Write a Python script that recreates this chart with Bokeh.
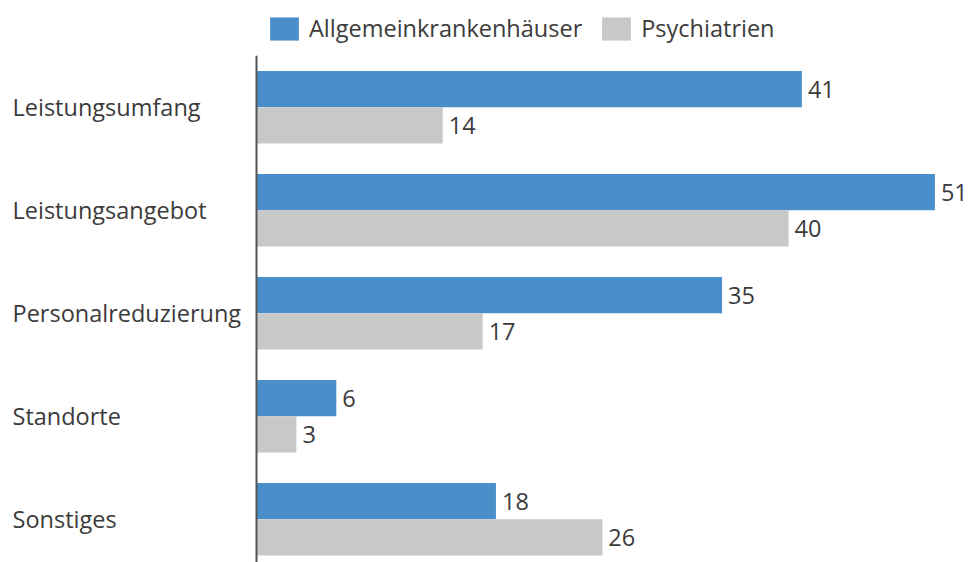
from bokeh.plotting import figure
from bokeh.models import ColumnDataSource, Range1d, Legend, LegendItem
from bokeh.core.properties import value
from bokeh.embed import file_html
from bokeh.resources import INLINE

categories = ["Leistungsumfang", "Leistungsangebot", "Personalreduzierung", "Standorte", "Sonstiges"]
allgemein = [41, 51, 35, 6, 18]
psychiatrien = [14, 40, 17, 3, 26]
series_names = ["Allgemeinkrankenhäuser", "Psychiatrien"]

BLUE = "#4A8FCA"
GREY = "#C7C8CA"
TEXT = "#3B3B3B"
FONT = "Open Sans"
FS = "23.5px"

pos = list(range(len(categories)))
bh = 0.3525
y_top, y_bot = -1.036, 4.42
x_end = 53.6
x_start = -256 / (713 / x_end)
src = ColumnDataSource(dict(
    cat=categories,
    pos=pos,
    pos_a=[p_ - bh / 2 for p_ in pos],
    pos_b=[p_ + bh / 2 for p_ in pos],
    a=allgemein,
    b=psychiatrien,
    a_lbl=[str(v) for v in allgemein],
    b_lbl=[str(v) for v in psychiatrien],
    lab_x=[x_start * 244 / 256] * len(categories),
))

p = figure(width=969, height=562, output_backend="svg", toolbar_location=None,
           x_range=Range1d(x_start, x_end), y_range=Range1d(y_bot, y_top),
           min_border=0, min_border_left=0, min_border_right=0,
           min_border_top=0, min_border_bottom=0)
p.axis.visible = False
p.grid.visible = False
p.outline_line_color = None
p.background_fill_color = "white"
p.border_fill_color = "white"

ra = p.hbar(y="pos_a", right="a", left=0, height=bh, source=src, fill_color=BLUE, line_color=None)
rb = p.hbar(y="pos_b", right="b", left=0, height=bh, source=src, fill_color=GREY, line_color=None)

# axis line at zero
p.segment(x0=0, x1=0, y0=-0.5, y1=y_bot, line_color="#555555", line_width=2)

p.text(x="a", y="pos_a", text="a_lbl", source=src, x_offset=6,
       text_baseline="middle", text_align="left", text_color=TEXT,
       text_font=value(FONT), text_font_size=FS)
p.text(x="b", y="pos_b", text="b_lbl", source=src, x_offset=6,
       text_baseline="middle", text_align="left", text_color=TEXT,
       text_font=value(FONT), text_font_size=FS)
p.text(x="lab_x", y="pos", text="cat", source=src,
       text_baseline="middle", text_align="left", text_color=TEXT,
       text_font=value(FONT), text_font_size=FS)

legend = Legend(items=[LegendItem(label=series_names[0], renderers=[ra]),
                       LegendItem(label=series_names[1], renderers=[rb])],
                orientation="horizontal", location=(266, 518),
                glyph_width=36, glyph_height=29, label_standoff=7, spacing=16,
                padding=0, margin=0, border_line_color=None,
                background_fill_alpha=0,
                label_text_font=FONT, label_text_font_size=FS, label_text_color=TEXT,
                label_height=29)
p.add_layout(legend, "center")

open("out.html", "w").write(file_html(p, INLINE))
